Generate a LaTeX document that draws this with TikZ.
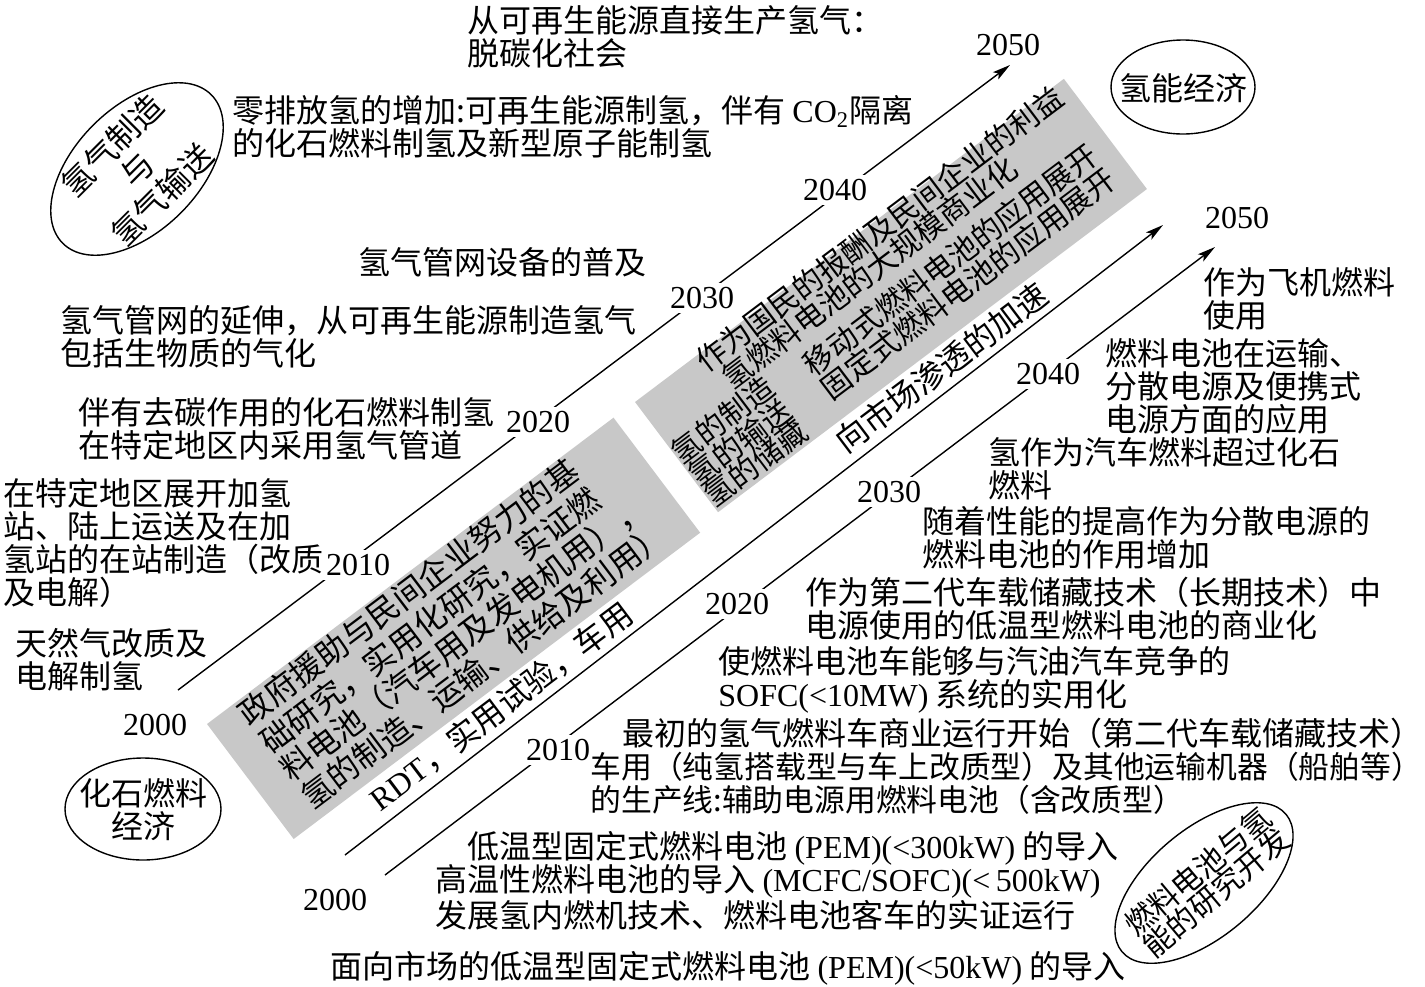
\documentclass[tikz,border=0pt]{standalone}
\usepackage{fontspec}
\setmainfont{Noto Sans CJK SC}
\newfontfamily\lat{Liberation Serif}
\newcommand\la[1]{{\lat #1}}
\usetikzlibrary{arrows.meta,shapes.geometric}
\definecolor{boxgray}{RGB}{200,200,200}
\begin{document}
\begin{tikzpicture}[x=0.5pt,y=-0.5pt,
  txt/.style={font=\fontsize{16}{16.5}\selectfont, inner sep=0pt, align=left, anchor=north west},
  gtxt/.style={font=\fontsize{16}{16}\selectfont, inner sep=0pt, anchor=west},
  gtxtb/.style={font=\fontsize{15}{15}\selectfont, inner sep=0pt, anchor=west},
  yr/.style={font=\lat\fontsize{16}{16}\selectfont, fill=white, inner sep=2pt},
  axis/.style={line width=0.7pt, -{Stealth[length=9pt,width=4.5pt,inset=2pt]}},
  oval/.style={draw, line width=0.7pt, ellipse, inner sep=0pt},
  otxt/.style={font=\fontsize{16}{17.5}\selectfont, inner sep=0pt, align=center}]
\useasboundingbox (0,0) rectangle (1425,986);

% gray box 1
\begin{scope}[shift={(207,724)}, rotate=37, transform shape]
  \fill[boxgray] (0,0) rectangle (509,144);
  \node[gtxt] (g1a) at (32,16) {政府援助与民间企业努力的基};
  \node[gtxt] (g1b) at (32,52) {础研究，实用化研究，实证燃};
  \node[gtxt] (g1c) at (32,86) {料电池（汽车用及发电机用），};
  \node[gtxt] (g1d) at (32,120) {氢的制造、运输、供给及利用）};
  \node[gtxt] (rdt) at (85,163) {\la{RDT}，实用试验，车用};
\end{scope}

% gray box 2
\begin{scope}[shift={(635,402)}, rotate=37, transform shape]
  \fill[boxgray] (0,0) rectangle (537,138);
  \node[gtxtb] (g2a) at (74,9) {作为国民的报酬及民间企业的利益};
  \node[gtxtb] (g2b) at (85,38) {氢燃料电池的大规模商业化};
  \node[gtxtb] (g2c) at (157,76) {移动式燃料电池的应用展开};
  \node[gtxtb] (g2d) at (157,106) {固定式燃料电池的应用展开};
  \node[gtxtb] (g2e) at (-1,67) {氢的制造};
  \node[gtxtb] (g2f) at (-1,95) {氢的输送};
  \node[gtxtb] (g2g) at (-1,122) {氢的储藏};
  \node[gtxt] (mkt) at (137,157) {向市场渗透的加速};
\end{scope}

% axes
\coordinate (a0) at (178,690); \coordinate (a1) at (1010,65);
\coordinate (b0) at (345,855); \coordinate (b1) at (1163,225);
\coordinate (c0) at (385,875); \coordinate (c1) at (1215,247);
\draw[axis] (a0) -- (a1);
\draw[axis] (b0) -- (b1);
\draw[axis] (c0) -- (c1);

% year labels, upper axis
\node[yr] (ya0) at (155,725) {2000};
\node[yr] (ya1) at (358,565) {2010};
\node[yr] (ya2) at (538,422) {2020};
\node[yr] (ya3) at (702,298) {2030};
\node[yr] (ya4) at (835,190) {2040};
\node[yr] (ya5) at (1008,45) {2050};
% year labels, lower axis
\node[yr] (yc0) at (335,900) {2000};
\node[yr] (yc1) at (558,750) {2010};
\node[yr] (yc2) at (737,604) {2020};
\node[yr] (yc3) at (889,492) {2030};
\node[yr] (yc4) at (1048,374) {2040};
\node[yr] (yc5) at (1237,218) {2050};

% ellipses
\node[oval, minimum width=105pt, minimum height=62pt, rotate=45] (e1) at (137,169) {};
\node[otxt, rotate=45] (e1t) at (137,170) {氢气制造\\与\\氢气输送};
\node[oval, minimum width=72pt, minimum height=47pt] (e2) at (1183,87) {};
\node[otxt] (e2t) at (1183,88) {氢能经济};
\node[oval, minimum width=78pt, minimum height=51pt] (e3) at (143,809) {};
\node[otxt, font=\fontsize{16}{16.5}\selectfont] (e3t) at (143,810) {化石燃料\\经济};
\node[oval, minimum width=107pt, minimum height=54pt, rotate=40] (e4) at (1204,883) {};
\node[otxt, rotate=40, font=\fontsize{15}{14}\selectfont, align=left] (e4t) at (1207,882) {燃料电池与氢\\能的研究开发};

% left / upper texts
\node[txt] (t1) at (467,5) {从可再生能源直接生产氢气：\\脱碳化社会};
\node[txt] (t2) at (232,95) {零排放氢的增加:可再生能源制氢，伴有 \la{CO\textsubscript{2}}隔离\\的化石燃料制氢及新型原子能制氢};
\node[txt] (t3) at (358,247) {氢气管网设备的普及};
\node[txt] (t4) at (60,305) {氢气管网的延伸，从可再生能源制造氢气\\包括生物质的气化};
\node[txt] (t5) at (78,397) {伴有去碳作用的化石燃料制氢\\在特定地区内采用氢气管道};
\node[txt] (t6) at (3,478) {在特定地区展开加氢\\站、陆上运送及在加\\氢站的在站制造（改质\\及电解）};
\node[txt] (t7) at (15,628) {天然气改质及\\电解制氢};

% right / lower texts
\node[txt] (r1) at (1203,267) {作为飞机燃料\\使用};
\node[txt] (r2) at (1105,338) {燃料电池在运输、\\分散电源及便携式\\电源方面的应用};
\node[txt] (r3) at (988,437) {氢作为汽车燃料超过化石\\燃料};
\node[txt] (r4) at (922,506) {随着性能的提高作为分散电源的\\燃料电池的作用增加};
\node[txt] (r5) at (805,577) {作为第二代车载储藏技术（长期技术）中\\电源使用的低温型燃料电池的商业化};
\node[txt] (r6) at (718,646) {使燃料电池车能够与汽油汽车竞争的\\\la{SOFC(<10MW)} 系统的实用化};
\node[txt] (r7) at (622,718) {最初的氢气燃料车商业运行开始（第二代车载储藏技术）};
\node[txt, font=\fontsize{15.4}{16.5}\selectfont] (r8) at (590,752) {车用（纯氢搭载型与车上改质型）及其他运输机器（船舶等）\\的生产线:辅助电源用燃料电池（含改质型）};
\node[txt] (r9) at (467,831) {低温型固定式燃料电池 \la{(PEM)(<300kW)} 的导入};
\node[txt] (r10) at (435,864) {高温性燃料电池的导入 \la{(MCFC/SOFC)(<\,500kW)}\\发展氢内燃机技术、燃料电池客车的实证运行};
\node[txt] (r11) at (330,951) {面向市场的低温型固定式燃料电池 \la{(PEM)(<50kW)} 的导入};
\end{tikzpicture}
\end{document}
